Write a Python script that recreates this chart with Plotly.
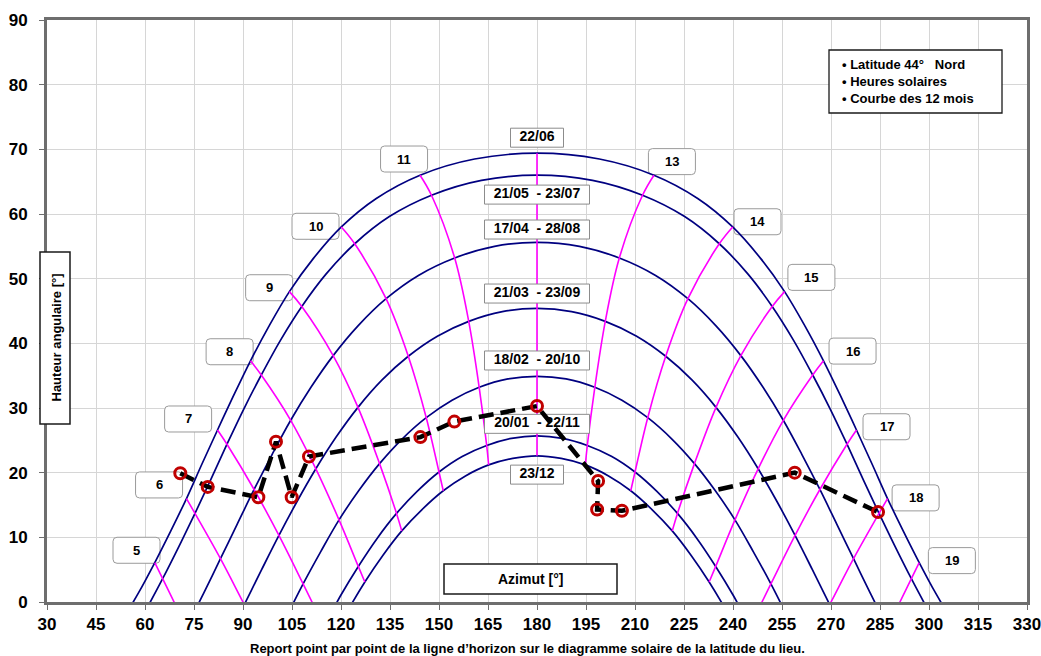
import plotly.graph_objects as go

# ---------------- data ----------------
# solar time (h) of each point of the day curves
TIMES = [4.0, 4.5, 5.0, 5.5, 6.0, 6.5, 7.0, 7.5, 8.0, 8.5, 9.0, 9.5, 10.0, 10.5, 11.0, 11.5,
         12.0, 12.5, 13.0, 13.5, 14.0, 14.5, 15.0, 15.5, 16.0, 16.5, 17.0, 17.5, 18.0, 18.5,
         19.0, 19.5, 20.0]

AZ_2206 = [52.7, 58.0, 63.0, 67.9, 72.7, 77.4, 82.2, 87.1, 92.3, 98.0, 104.2, 111.5, 120.1, 130.8, 144.2, 160.9,
           180.0, 199.1, 215.8, 229.2, 239.9, 248.5, 255.8, 262.0, 267.7, 272.9, 277.8, 282.6, 287.3, 292.1,
           297.0, 302.0, 307.3]
ALT_2206 = [-3.1, 1.4, 6.1, 11.0, 16.0, 21.3, 26.6, 31.9, 37.3, 42.7, 48.0, 53.1, 58.0, 62.4, 66.0, 68.5,
            69.4, 68.5, 66.0, 62.4, 58.0, 53.1, 48.0, 42.7, 37.3, 31.9, 26.6, 21.3, 16.0, 11.0,
            6.1, 1.4, -3.1]

AZ_2105 = [54.9, 60.3, 65.4, 70.4, 75.3, 80.2, 85.1, 90.2, 95.6, 101.5, 108.0, 115.4, 124.2, 134.8, 147.7, 163.0,
           180.0, 197.0, 212.3, 225.2, 235.8, 244.6, 252.0, 258.5, 264.4, 269.8, 274.9, 279.8, 284.7, 289.6,
           294.6, 299.7, 305.1]
ALT_2105 = [-5.8, -1.2, 3.6, 8.6, 13.7, 19.0, 24.4, 29.8, 35.1, 40.5, 45.7, 50.7, 55.4, 59.6, 62.9, 65.2,
            66.0, 65.2, 62.9, 59.6, 55.4, 50.7, 45.7, 40.5, 35.1, 29.8, 24.4, 19.0, 13.7, 8.6,
            3.6, -1.2, -5.8]

AZ_1704 = [61.6, 67.2, 72.7, 77.9, 83.1, 88.2, 93.4, 98.9, 104.6, 110.8, 117.6, 125.2, 133.8, 143.7, 154.8, 167.0,
           180.0, 193.0, 205.2, 216.3, 226.2, 234.8, 242.4, 249.2, 255.4, 261.1, 266.6, 271.8, 276.9, 282.1,
           287.3, 292.8, 298.4]
ALT_1704 = [-13.8, -9.0, -3.9, 1.3, 6.7, 12.0, 17.4, 22.8, 28.1, 33.2, 38.1, 42.7, 46.9, 50.5, 53.2, 55.0,
            55.6, 55.0, 53.2, 50.5, 46.9, 42.7, 38.1, 33.2, 28.1, 22.8, 17.4, 12.0, 6.7, 1.3,
            -3.9, -9.0, -13.8]

AZ_2103 = [68.6, 74.4, 79.9, 85.2, 90.4, 95.7, 101.0, 106.5, 112.3, 118.5, 125.2, 132.5, 140.6, 149.5, 159.1, 169.4,
           180.0, 190.6, 200.9, 210.5, 219.4, 227.5, 234.8, 241.5, 247.7, 253.5, 259.0, 264.3, 269.6, 274.8,
           280.1, 285.6, 291.4]
ALT_2103 = [-21.5, -16.4, -11.2, -5.8, -0.4, 5.0, 10.3, 15.5, 20.6, 25.5, 30.1, 34.3, 38.0, 41.1, 43.4, 44.9,
            45.4, 44.9, 43.4, 41.1, 38.0, 34.3, 30.1, 25.5, 20.6, 15.5, 10.3, 5.0, -0.4, -5.8,
            -11.2, -16.4, -21.5]

AZ_1802 = [76.6, 82.3, 87.7, 92.9, 98.0, 103.2, 108.4, 113.8, 119.4, 125.4, 131.8, 138.7, 146.1, 154.0, 162.3, 171.1,
           180.0, 188.9, 197.7, 206.0, 213.9, 221.3, 228.2, 234.6, 240.6, 246.2, 251.6, 256.8, 262.0, 267.1,
           272.3, 277.7, 283.4]
ALT_1802 = [-29.1, -23.8, -18.4, -13.1, -7.7, -2.4, 2.8, 7.8, 12.7, 17.2, 21.4, 25.2, 28.5, 31.2, 33.2, 34.5,
            34.9, 34.5, 33.2, 31.2, 28.5, 25.2, 21.4, 17.2, 12.7, 7.8, 2.8, -2.4, -7.7, -13.1,
            -18.4, -23.8, -29.1]

AZ_2001 = [84.6, 90.0, 95.1, 100.0, 104.9, 109.8, 114.8, 119.9, 125.3, 131.0, 137.0, 143.3, 150.0, 157.1, 164.6, 172.2,
           180.0, 187.8, 195.4, 202.9, 210.0, 216.7, 223.0, 229.0, 234.7, 240.1, 245.2, 250.2, 255.1, 260.0,
           264.9, 270.0, 275.4]
ALT_2001 = [-35.3, -29.9, -24.6, -19.2, -13.9, -8.8, -3.8, 1.0, 5.5, 9.8, 13.7, 17.1, 20.1, 22.5, 24.2, 25.3,
            25.7, 25.3, 24.2, 22.5, 20.1, 17.1, 13.7, 9.8, 5.5, 1.0, -3.8, -8.8, -13.9, -19.2,
            -24.6, -29.9, -35.3]

AZ_2312 = [87.7, 92.9, 97.8, 102.6, 107.3, 112.1, 117.0, 122.0, 127.3, 132.8, 138.6, 144.8, 151.3, 158.1, 165.2, 172.6,
           180.0, 187.4, 194.8, 201.9, 208.7, 215.2, 221.4, 227.2, 232.7, 238.0, 243.0, 247.9, 252.7, 257.4,
           262.2, 267.1, 272.3]
ALT_2312 = [-37.3, -31.9, -26.6, -21.3, -16.0, -11.0, -6.1, -1.4, 3.1, 7.2, 11.0, 14.3, 17.2, 19.5, 21.2, 22.2,
            22.6, 22.2, 21.2, 19.5, 17.2, 14.3, 11.0, 7.2, 3.1, -1.4, -6.1, -11.0, -16.0, -21.3,
            -26.6, -31.9, -37.3]

DATE_LABELS = ["22/06", "21/05\u00a0 - 23/07", "17/04\u00a0 - 28/08", "21/03\u00a0 - 23/09",
               "18/02\u00a0 - 20/10", "20/01\u00a0 - 22/11", "23/12"]

HOUR_LINES = [5, 6, 7, 8, 9, 10, 11, 12, 13, 14, 15, 16, 17, 18, 19]
HOUR_LABELS = ["5", "6", "7", "8", "9", "10", "11", "13", "14", "15", "16", "17", "18", "19"]

# horizon line read point by point
HORIZON_AZ = [70.8, 79.2, 94.7, 100.1, 104.9, 110.2, 144.3, 154.7, 180.0, 198.7, 198.4, 206.0, 258.9, 284.4]
HORIZON_ALT = [19.9, 17.8, 16.2, 24.8, 16.2, 22.5, 25.5, 27.9, 30.3, 18.7, 14.3, 14.1, 20.0, 13.9]

X_TICKS = [30, 45, 60, 75, 90, 105, 120, 135, 150, 165, 180, 195, 210, 225, 240, 255, 270, 285, 300, 315, 330]
Y_TICKS = [0, 10, 20, 30, 40, 50, 60, 70, 80, 90]

# ---------------- layout constants ----------------
W, H = 1041, 656
ML, MR, MT, MB = 47, 14, 20, 54
PX_X = (W - ML - MR) / 300.0
PX_Y = (H - MT - MB) / 90.0
FONT = "Liberation Sans, Arial, sans-serif"
NAVY = "#000080"
MAGENTA = "#ff00ff"

# label anchor positions (layout, in axis units)
HOUR_LABEL_POS = [(57.4, 8.0), (64.3, 18.1), (73.2, 28.3), (85.9, 38.7), (98.0, 48.6), (112.2, 58.1),
                  (139.3, 68.5), (221.3, 68.1), (247.5, 58.8), (264.0, 50.2), (276.6, 38.8),
                  (287.0, 27.1), (295.9, 16.1), (307.0, 6.4)]
DATE_LABEL_X = 180.0
DATE_LABEL_Y = [71.8, 63.0, 57.6, 47.7, 37.35, 27.55, 19.7]

fig = go.Figure()

dates = [(AZ_2206, ALT_2206), (AZ_2105, ALT_2105), (AZ_1704, ALT_1704), (AZ_2103, ALT_2103),
         (AZ_1802, ALT_1802), (AZ_2001, ALT_2001), (AZ_2312, ALT_2312)]

for az, alt in dates:
    fig.add_trace(go.Scatter(x=az, y=alt, mode="lines",
                             line=dict(color=NAVY, width=1.7, shape="spline"),
                             hoverinfo="skip", showlegend=False))

for h in HOUR_LINES:
    i = TIMES.index(float(h))
    fig.add_trace(go.Scatter(x=[az[i] for az, _ in dates], y=[alt[i] for _, alt in dates],
                             mode="lines", line=dict(color=MAGENTA, width=1.6, shape="spline"),
                             hoverinfo="skip", showlegend=False))

# date label boxes (drawn as traces so the horizon line can pass over them)
for lab, ly in zip(DATE_LABELS, DATE_LABEL_Y):
    wpx = 53 if len(lab) <= 5 else 105
    hw = wpx / 2 / PX_X
    hh = 19 / 2 / PX_Y
    fig.add_trace(go.Scatter(x=[DATE_LABEL_X - hw, DATE_LABEL_X + hw, DATE_LABEL_X + hw, DATE_LABEL_X - hw, DATE_LABEL_X - hw],
                             y=[ly - hh, ly - hh, ly + hh, ly + hh, ly - hh],
                             mode="lines", fill="toself", fillcolor="white",
                             line=dict(color="#8c8c8c", width=1),
                             hoverinfo="skip", showlegend=False))
fig.add_trace(go.Scatter(x=[DATE_LABEL_X] * len(DATE_LABELS), y=DATE_LABEL_Y, mode="text",
                         text=DATE_LABELS, textposition="middle center",
                         textfont=dict(family=FONT, size=14, color="black", weight="bold"),
                         hoverinfo="skip", showlegend=False))

# horizon
fig.add_trace(go.Scatter(x=HORIZON_AZ, y=HORIZON_ALT, mode="lines+markers",
                         line=dict(color="black", width=4.5, dash="15px,7px"),
                         marker=dict(symbol="circle-open", size=11, color="#c00000",
                                     line=dict(width=3, color="#c00000")),
                         hoverinfo="skip", showlegend=False))

shapes = []
annotations = []
RR = "M -19.5,-13 L 19.5,-13 Q 23.5,-13 23.5,-9 L 23.5,9 Q 23.5,13 19.5,13 L -19.5,13 Q -23.5,13 -23.5,9 L -23.5,-9 Q -23.5,-13 -19.5,-13 Z"
for lab, (lx, ly) in zip(HOUR_LABELS, HOUR_LABEL_POS):
    shapes.append(dict(type="path", xref="x", yref="y", xsizemode="pixel", ysizemode="pixel",
                       xanchor=lx, yanchor=ly, path=RR, fillcolor="white",
                       line=dict(color="#9a9a9a", width=1), layer="between"))
    annotations.append(dict(x=lx, y=ly, xref="x", yref="y", text=lab, showarrow=False,
                            xanchor="center", yanchor="middle",
                            font=dict(family=FONT, size=13, color="black", weight="bold")))


def px2paper(px, py):
    return (px - ML) / (W - ML - MR), (H - MB - py) / (H - MT - MB)


def box(x0p, y0p, x1p, y1p, lw=1.5):
    a = px2paper(x0p, y1p)
    b = px2paper(x1p, y0p)
    shapes.append(dict(type="rect", xref="paper", yref="paper", x0=a[0], y0=a[1], x1=b[0], y1=b[1],
                       fillcolor="white", line=dict(color="#1a1a1a", width=lw), layer="above"))


# y title box
box(40, 252, 70, 424)
cx, cy = px2paper(55.5, 338)
annotations.append(dict(x=cx, y=cy, xref="paper", yref="paper", text="Hauteur angulaire [°]",
                        textangle=-90, showarrow=False, xanchor="center", yanchor="middle",
                        font=dict(family=FONT, size=13, color="black", weight="bold")))
# x title box
box(444, 564, 617, 594)
cx, cy = px2paper(530.5, 579)
annotations.append(dict(x=cx, y=cy, xref="paper", yref="paper", text="Azimut [°]", showarrow=False,
                        xanchor="center", yanchor="middle",
                        font=dict(family=FONT, size=14, color="black", weight="bold")))
# info box
box(829, 50, 1002, 113, lw=1.3)
cx, cy = px2paper(840, 81.5)
annotations.append(dict(x=cx, y=cy, xref="paper", yref="paper", xanchor="left", yanchor="middle",
                        align="left",
                        text="• Latitude 44°\u00a0\u00a0 Nord<br>• Heures solaires<br>• Courbe des 12 mois",
                        showarrow=False,
                        font=dict(family=FONT, size=13, color="black", weight="bold")))
# bottom caption
cx, cy = px2paper(527.5, 648)
annotations.append(dict(x=cx, y=cy, xref="paper", yref="paper", xanchor="center", yanchor="middle",
                        text="Report point par point de la ligne d\u2019horizon sur le diagramme solaire de la latitude du lieu.",
                        showarrow=False,
                        font=dict(family=FONT, size=13, color="black", weight="bold")))

axis_common = dict(showgrid=True, gridcolor="#d6d6d6", gridwidth=1, zeroline=False,
                   showline=True, linecolor="#6e6e6e", linewidth=3, mirror=True,
                   ticks="outside", ticklen=5, tickcolor="#6e6e6e", tickwidth=1,
                   ticklabeloverflow="allow",
                   tickfont=dict(family=FONT, size=17, color="black", weight="bold"))

fig.update_layout(
    width=W, height=H,
    margin=dict(l=ML, r=MR, t=MT, b=MB, autoexpand=False),
    paper_bgcolor="white", plot_bgcolor="white",
    hovermode=False, showlegend=False,
    xaxis=dict(range=[30, 330], tickmode="array", tickvals=X_TICKS, **axis_common),
    yaxis=dict(range=[0, 90], tickmode="array", tickvals=Y_TICKS, ticklabelstandoff=8, **axis_common),
    shapes=shapes, annotations=annotations,
)

fig.write_html("out.html", config={"displayModeBar": False},
               post_script="document.body.style.margin='0';document.body.style.overflow='hidden';")
